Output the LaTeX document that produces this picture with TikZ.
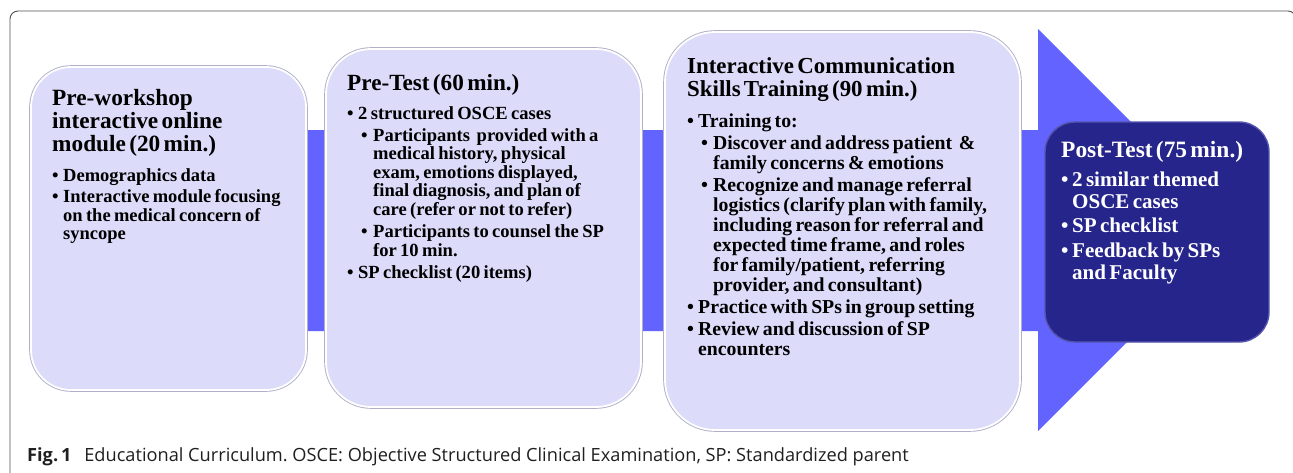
\documentclass[tikz,border=0pt]{standalone}
\usepackage{fontspec}
\setmainfont{Liberation Serif}[WordSpace=1.25]
\newfontfamily\capfont{Open Sans}
\definecolor{arrowblue}{RGB}{99,99,255}
\definecolor{boxfill}{RGB}{220,220,250}
\definecolor{boxedge}{RGB}{175,175,200}
\definecolor{darkbox}{RGB}{37,37,140}
\definecolor{darkedge}{RGB}{85,85,175}
\definecolor{framegray}{RGB}{80,80,80}
\newlength\hangA \setlength\hangA{11pt}
\newcommand\ia[1]{\par\leftskip=0pt\hangindent=\hangA\hangafter=1\noindent\hbox to\hangA{\textbullet\hfil}#1}
\newcommand\ib[1]{\par\leftskip=14pt\hangindent=12pt\hangafter=1\noindent\hbox to 12pt{\textbullet\hfil}#1}
\tikzset{
  lightbox/.style={shape=rectangle, fill=boxfill, draw=white, line width=1.8pt,
     preaction={draw=boxedge, line width=3.6pt}, inner sep=0pt},
  darkboxst/.style={shape=rectangle, fill=darkbox, draw=darkedge, line width=1.4pt, inner sep=0pt},
  txt/.style={anchor=base west, inner sep=0pt, text width=340pt, align=left},
}
\begin{document}
\begin{tikzpicture}[x=1pt,y=-1pt]
\useasboundingbox (0,0) rectangle (1293,472);
\clip (0,0) rectangle (1293,472);
% outer frame
\draw[framegray, line width=0.9pt, rounded corners=8pt] (10,520) -- (10,11) -- (1296,11) -- (1296,520);
% big background arrow
\fill[arrowblue] (60,130) -- (1038,130) -- (1038,29) -- (1239,230) -- (1038,431) -- (1038,331) -- (60,331) -- cycle;
% boxes
\node[lightbox, rounded corners=40pt, minimum width=275pt, minimum height=323pt] (b1) at (168.5,228.5) {};
\node[lightbox, rounded corners=45pt, minimum width=315pt, minimum height=358pt] (b2) at (483.5,228) {};
\node[lightbox, rounded corners=50pt, minimum width=355pt, minimum height=398pt] (b3) at (842.5,231) {};
\node[darkboxst, rounded corners=30pt, minimum width=224pt, minimum height=220pt] (b4) at (1157,232) {};
% texts
\node[txt] (t1) at (52,105) {\bfseries\setlength\parskip{3pt}%
  \fontsize{23.3}{23}\selectfont Pre-workshop\newline interactive online\newline module (20 min.)\par
  \vspace{8.5pt}\fontsize{18.5}{18.5}\selectfont
  \ia{Demographics data}%
  \ia{Interactive module focusing\newline on the medical concern of\newline syncope}\par};
\node[txt] (t2) at (347,90) {\bfseries\setlength\parskip{3.5pt}%
  \fontsize{23.2}{23}\selectfont Pre-Test (60 min.)\par
  \vspace{6.9pt}\fontsize{18.55}{18.6}\selectfont
  \ia{2 structured OSCE cases}%
  \ib{Participants~ provided with a\newline medical history, physical\newline exam, emotions displayed,\newline final diagnosis, and plan of\newline care (refer or not to refer)}%
  \ib{Participants to counsel the SP\newline for 10 min.}%
  \ia{SP checklist (20 items)}\par};
\node[txt] (t3) at (687,73) {\bfseries\setlength\parskip{2.4pt}%
  \fontsize{22.9}{23}\selectfont Interactive Communication\newline Skills Training (90 min.)\par
  \vspace{8.7pt}\fontsize{19.75}{19.9}\selectfont
  \ia{Training to:}%
  \ib{Discover and address patient~ \&\newline family concerns \& emotions}%
  \ib{Recognize and manage referral\newline logistics (clarify plan with family,\newline including reason for referral and\newline expected time frame, and roles\newline for family/patient, referring\newline provider, and consultant)}%
  \ia{Practice with SPs in group setting}%
  \ia{Review and discussion of SP\newline encounters}\par};
\node[txt, text=white] (t4) at (1061,157) {\bfseries\setlength\parskip{2.5pt}%
  \fontsize{23.4}{23}\selectfont Post-Test (75 min.)\par
  \vspace{4.5pt}\fontsize{21.05}{22}\selectfont
  \ia{2 similar themed\newline OSCE cases}%
  \ia{SP checklist}%
  \ia{Feedback by SPs\newline and Faculty}\par};
% caption
\node[anchor=base west, inner sep=0pt, text=black!88, font=\capfont\fontsize{18.2}{20}\selectfont] (cap) at (27,461)
  {\frenchspacing\textbf{Fig.\,1}\hspace{0.7em}Educational Curriculum. OSCE: Objective Structured Clinical Examination, SP: Standardized parent};
\end{tikzpicture}
\end{document}
